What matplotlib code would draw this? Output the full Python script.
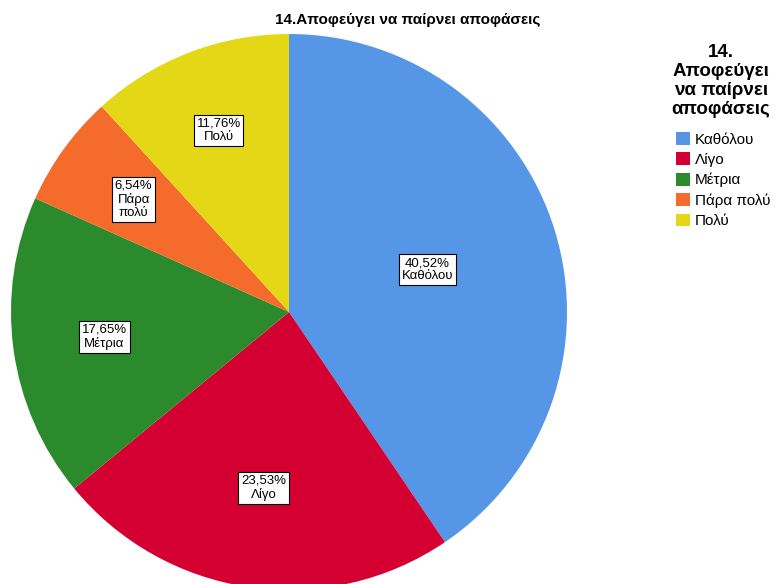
import numpy as np
import matplotlib
matplotlib.use("Agg")
from matplotlib import pyplot as plt
from matplotlib.patches import Patch

plt.rcParams['font.family'] = ['Liberation Sans', 'DejaVu Sans']

# Κατηγορίες απαντήσεων και ποσοστά
categories = ['Καθόλου', 'Λίγο', 'Μέτρια', 'Πάρα πολύ', 'Πολύ']
percentages = [40.52, 23.53, 17.65, 6.54, 11.76]
label_names = ['Καθόλου', 'Λίγο', 'Μέτρια', 'Πάρα\nπολύ', 'Πολύ']
colors = ['#5597e6', '#d50032', '#2b8a2b', '#f46b2c', '#e3d716']
label_radius = [0.52, 0.64, 0.67, 0.69, 0.70]

fig = plt.figure(figsize=(7.78, 5.84), dpi=100)
ax = fig.add_axes([11 / 778, -6 / 584, 556 / 778, 556 / 584])

wedges, _ = ax.pie(percentages, colors=colors, startangle=90, counterclock=False,
                   radius=1.0, wedgeprops=dict(linewidth=0))
ax.set_xlim(-1, 1)
ax.set_ylim(-1, 1)
ax.set_aspect('equal')
ax.axis('off')

# Ετικέτες μέσα στις φέτες
for w, pct, name, r in zip(wedges, percentages, label_names, label_radius):
    ang = np.deg2rad((w.theta1 + w.theta2) / 2)
    txt = f"{pct:.2f}".replace('.', ',') + '%\n' + name
    ax.text(r * np.cos(ang), r * np.sin(ang), txt, ha='center', va='center',
            fontsize=9.5, linespacing=1.12,
            bbox=dict(boxstyle='square,pad=0.2', facecolor='white',
                      edgecolor='black', linewidth=0.8))

fig.text(408 / 778, 1 - 20 / 584, '14.Αποφεύγει να παίρνει αποφάσεις',
         ha='center', va='center', fontsize=11, fontweight='bold')

fig.text(721 / 778, 1 - 81 / 584, '14.\nΑποφεύγει\nνα παίρνει\nαποφάσεις',
         ha='center', va='center', fontsize=13.5, fontweight='bold', linespacing=1.15)

handles = [Patch(facecolor=c, edgecolor='none') for c in colors]
fig.legend(handles, categories, loc='upper left', bbox_to_anchor=(676 / 778, 1 - 132 / 584),
           frameon=False, fontsize=11, handlelength=0.9, handleheight=0.9,
           handletextpad=0.35, labelspacing=0.38, borderpad=0, borderaxespad=0)

fig.savefig('out.png', dpi=100)
